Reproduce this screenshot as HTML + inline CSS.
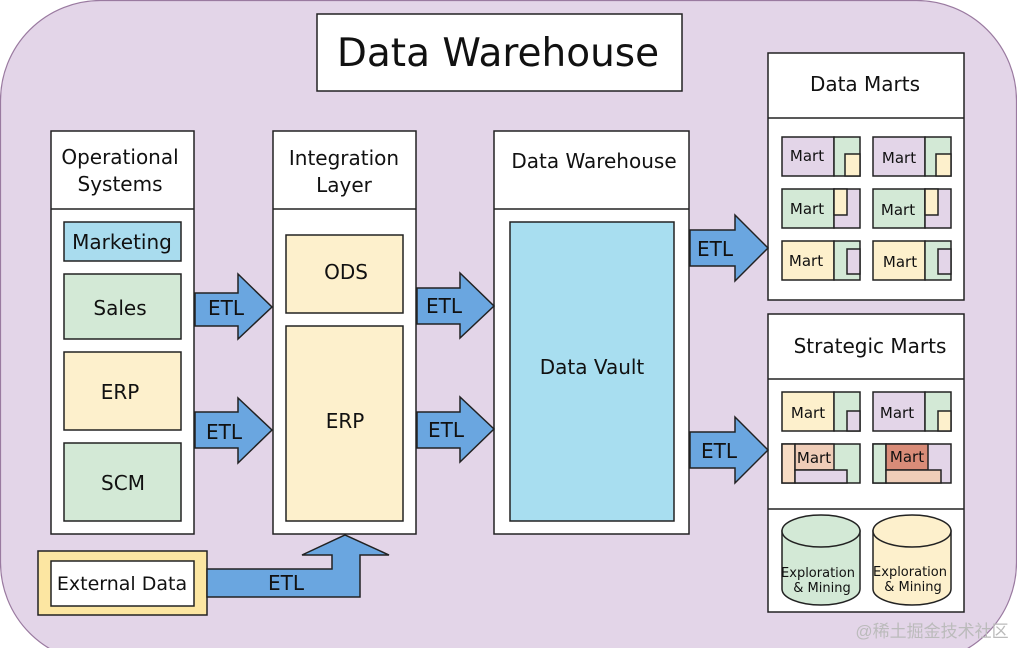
<!DOCTYPE html>
<html><head><meta charset="utf-8"><style>
html,body{margin:0;padding:0;background:#fff;width:1017px;height:648px;overflow:hidden;}
svg{display:block;font-family:"DejaVu Sans","Liberation Sans",sans-serif;}
</style></head><body>
<svg width="1017" height="648" viewBox="0 0 1017 648" xmlns="http://www.w3.org/2000/svg">
<rect x="0.5" y="0.5" width="1016" height="662" rx="100" fill="#e3d5e8" stroke="#9a7aa0" stroke-width="1.2"/>
<g stroke="#222" stroke-width="1.5">
<rect x="317" y="14" width="365" height="77" fill="#fff"/>
<rect x="51" y="131" width="143" height="403" fill="#fff"/><line x1="51" y1="209" x2="194" y2="209"/>
<rect x="273" y="131" width="143" height="403" fill="#fff"/><line x1="273" y1="209" x2="416" y2="209"/>
<rect x="494" y="131" width="195" height="403" fill="#fff"/><line x1="494" y1="209" x2="689" y2="209"/>
<rect x="768" y="53" width="196" height="247" fill="#fff"/><line x1="768" y1="118" x2="964" y2="118"/>
<rect x="768" y="314" width="196" height="298" fill="#fff"/><line x1="768" y1="379" x2="964" y2="379"/><line x1="768" y1="509" x2="964" y2="509"/>
<rect x="64" y="222" width="117" height="39" fill="#a9dcee"/>
<rect x="64" y="274" width="117" height="65" fill="#d3e9d6"/>
<rect x="64" y="352" width="117" height="78" fill="#fdf0cc"/>
<rect x="64" y="443" width="117" height="78" fill="#d3e9d6"/>
<rect x="286" y="235" width="117" height="78" fill="#fdf0cc"/>
<rect x="286" y="326" width="117" height="195" fill="#fdf0cc"/>
<rect x="510" y="222" width="164" height="299" fill="#a8def0"/>
<rect x="38" y="551" width="169" height="64" fill="#fce6a2"/>
<rect x="51" y="561" width="143" height="45" fill="#fff"/>
<g fill="#6aa6e0">
<polygon points="195,293 238,293 238,274 272,307 238,339 238,326 195,326"/>
<polygon points="195,412 238,412 238,398 272,430 238,463 238,448 195,448"/>
<polygon points="417,288 460,288 460,273 494,306 460,338 460,324 417,324"/>
<polygon points="417,412 460,412 460,397 494,429 460,462 460,448 417,448"/>
<polygon points="690,230 735,230 735,215 768,248 735,281 735,266 690,266"/>
<polygon points="690,432 735,432 735,417 768,450 735,483 735,468 690,468"/>
<polygon points="207,569 332,569 332,555 302,555 345,535 389,555 360,555 360,597 207,597"/>
</g>
</g>
<g stroke="#222" stroke-width="1.5">
<g transform="translate(782,137)"><rect width="52" height="39" fill="#e3d5e8"/><rect x="52" width="26" height="39" fill="#d3e9d6"/><rect x="63" y="17" width="15" height="22" fill="#fdf0cc"/></g>
<g transform="translate(873,137)"><rect width="52" height="39" fill="#e3d5e8"/><rect x="52" width="26" height="39" fill="#d3e9d6"/><rect x="63" y="17" width="15" height="22" fill="#fdf0cc"/></g>
<g transform="translate(782,189)"><rect width="52" height="39" fill="#d3e9d6"/><rect x="52" width="26" height="39" fill="#e3d5e8"/><rect x="52" width="13" height="26" fill="#fdf0cc"/></g>
<g transform="translate(873,189)"><rect width="52" height="39" fill="#d3e9d6"/><rect x="52" width="26" height="39" fill="#e3d5e8"/><rect x="52" width="13" height="26" fill="#fdf0cc"/></g>
<g transform="translate(782,241)"><rect width="52" height="39" fill="#fdf0cc"/><rect x="52" width="26" height="39" fill="#d3e9d6"/><rect x="65" y="8" width="13" height="25" fill="#e3d5e8"/></g>
<g transform="translate(873,241)"><rect width="52" height="39" fill="#fdf0cc"/><rect x="52" width="26" height="39" fill="#d3e9d6"/><rect x="65" y="8" width="13" height="25" fill="#e3d5e8"/></g>
<g transform="translate(782,392)"><rect width="52" height="39" fill="#fdf0cc"/><rect x="52" width="26" height="39" fill="#d3e9d6"/><rect x="65" y="19" width="13" height="20" fill="#e3d5e8"/></g>
<g transform="translate(873,392)"><rect width="52" height="39" fill="#e3d5e8"/><rect x="52" width="26" height="39" fill="#d3e9d6"/><rect x="65" y="19" width="13" height="20" fill="#fdf0cc"/></g>
<g transform="translate(782,444)"><rect width="78" height="39" fill="#d3e9d6"/><rect width="13" height="39" fill="#f7dcc4"/><rect x="13" width="39" height="26" fill="#efcdb8"/><rect x="13" y="26" width="52" height="13" fill="#e3d5e8"/></g>
<g transform="translate(873,444)"><rect width="78" height="39" fill="#e3d5e8"/><rect width="13" height="39" fill="#d3e9d6"/><rect x="13" width="42" height="26" fill="#d98c78"/><rect x="13" y="26" width="55" height="13" fill="#efcdb8"/></g>
<path d="M782,531 L782,589 A39,16 0 0 0 860,589 L860,531 Z" fill="#d3e9d6"/>
<ellipse cx="821" cy="531" rx="39" ry="16" fill="#d3e9d6"/>
<path d="M873,531 L873,589 A39,16 0 0 0 951,589 L951,531 Z" fill="#fdf0cc"/>
<ellipse cx="912" cy="531" rx="39" ry="16" fill="#fdf0cc"/>
</g>
<g fill="#111" text-anchor="middle">
<text x="498" y="66" font-size="39">Data Warehouse</text>
<text x="120" y="164" font-size="20">Operational</text>
<text x="120" y="191" font-size="20">Systems</text>
<text x="344" y="165" font-size="20">Integration</text>
<text x="344" y="192" font-size="20">Layer</text>
<text x="594" y="168" font-size="20">Data Warehouse</text>
<text x="865" y="91" font-size="20">Data Marts</text>
<text x="870" y="353" font-size="20">Strategic Marts</text>
<text x="122" y="249" font-size="20">Marketing</text>
<text x="120" y="315" font-size="20">Sales</text>
<text x="120" y="399" font-size="20">ERP</text>
<text x="123" y="490" font-size="20">SCM</text>
<text x="346" y="279" font-size="20">ODS</text>
<text x="345" y="428" font-size="20">ERP</text>
<text x="592" y="374" font-size="20">Data Vault</text>
<text x="122" y="590" font-size="19">External Data</text>
<text x="226" y="315" font-size="20">ETL</text>
<text x="224" y="439" font-size="20">ETL</text>
<text x="444" y="313" font-size="20">ETL</text>
<text x="446" y="437" font-size="20">ETL</text>
<text x="715" y="256" font-size="20">ETL</text>
<text x="719" y="458" font-size="20">ETL</text>
<text x="286" y="590" font-size="20">ETL</text>
<g font-size="15">
<text x="807" y="161">Mart</text><text x="899" y="163">Mart</text>
<text x="807" y="214">Mart</text><text x="898" y="215">Mart</text>
<text x="806" y="266">Mart</text><text x="900" y="267">Mart</text>
<text x="808" y="418">Mart</text><text x="897" y="418">Mart</text>
<text x="814" y="463">Mart</text><text x="907" y="462">Mart</text>
</g>
<g font-size="13">
<text x="818" y="577">Exploration</text><text x="822" y="592">&amp; Mining</text>
<text x="910" y="576">Exploration</text><text x="913" y="591">&amp; Mining</text>
</g>
</g>
<text x="932" y="637" font-size="17" fill="#bbb" text-anchor="middle" font-family="'Liberation Sans','Noto Sans CJK SC',sans-serif">@稀土掘金技术社区</text>
</svg>
</body></html>
